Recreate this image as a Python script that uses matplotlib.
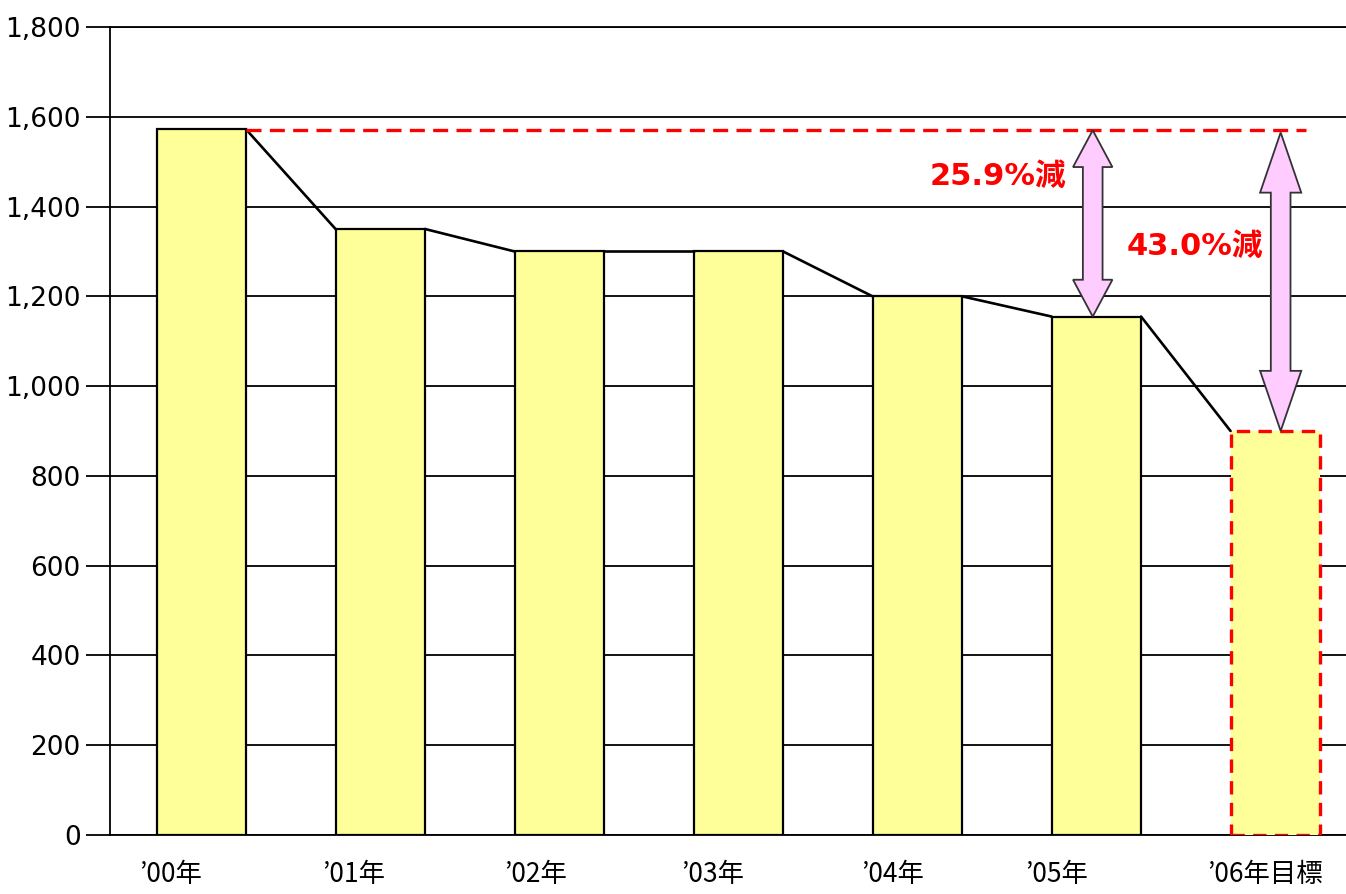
import matplotlib
matplotlib.use("Agg")
import matplotlib.pyplot as plt
from matplotlib.patches import Polygon
from matplotlib.ticker import FuncFormatter, MultipleLocator

plt.rcParams['font.family'] = ['DejaVu Sans', 'Noto Sans CJK JP']

categories = ["’00年", "’01年", "’02年", "’03年", "’04年", "’05年", "’06年目標"]
values = [1572, 1350, 1300, 1300, 1200, 1155, 900]
base_value = 1570
label_a = "25.9%減"
label_b = "43.0%減"
label_a_y = 1466
label_b_y = 1310

W, H = 1346, 894
fig = plt.figure(figsize=(W / 100, H / 100), dpi=100)
ax = fig.add_axes([110 / W, 1 - 835 / H, 1 - 110 / W, (835 - 27) / H])

n = len(values)
xs = list(range(n))
bw = 0.5
yellow = "#FFFF99"

# actual bars
ax.bar(xs[:-1], values[:-1], width=bw, color=yellow, edgecolor="black", linewidth=1.6, zorder=3)
# target bar
ax.bar(xs[-1], values[-1], width=bw, color=yellow, edgecolor="none", zorder=3)
ax.bar(xs[-1], values[-1], width=bw, fill=False, edgecolor="#FF0000", linewidth=2.4,
       linestyle=(0, (4, 2.5)), zorder=4)

# connecting line between bar corners
for i in range(n - 1):
    ax.plot([xs[i] + bw / 2, xs[i + 1] - bw / 2], [values[i], values[i + 1]],
            color="black", linewidth=1.9, zorder=4, solid_capstyle="round")

# red dashed base line
ax.plot([xs[0] + bw / 2, xs[-1] + 0.17], [base_value, base_value], color="#FF0000",
        linewidth=2.4, linestyle=(0, (4.5, 2.5)), zorder=5)


def double_arrow(x, y_bot, y_top, sw, hw, hl):
    pts = [(x, y_top), (x + hw / 2, y_top - hl), (x + sw / 2, y_top - hl),
           (x + sw / 2, y_bot + hl), (x + hw / 2, y_bot + hl), (x, y_bot),
           (x - hw / 2, y_bot + hl), (x - sw / 2, y_bot + hl),
           (x - sw / 2, y_top - hl), (x - hw / 2, y_top - hl)]
    ax.add_patch(Polygon(pts, closed=True, facecolor="#FFCCFF", edgecolor="#333333",
                         linewidth=1.3, zorder=6))


double_arrow(xs[-2] - 0.02, values[-2], base_value, 0.11, 0.22, 82)
double_arrow(xs[-1] + 0.03, values[-1], base_value - 5, 0.11, 0.23, 134)

ax.text(xs[-2] - 0.17, label_a_y, label_a, color="#FF0000", fontsize=22, fontweight="bold",
        ha="right", va="center", family=["DejaVu Sans", "Noto Sans CJK JP"], zorder=7)
ax.text(xs[-1] - 0.07, label_b_y, label_b, color="#FF0000", fontsize=22, fontweight="bold",
        ha="right", va="center", family=["DejaVu Sans", "Noto Sans CJK JP"], zorder=7)

ax.set_ylim(0, 1800)
ax.set_xlim(-0.51, 6.395)
ax.yaxis.set_major_locator(MultipleLocator(200))
ax.yaxis.set_major_formatter(FuncFormatter(lambda v, p: f"{int(v):,}"))
ax.grid(axis="y", color="black", linewidth=1.3, zorder=0)
ax.set_axisbelow(True)

ax.set_xticks(xs)
ax.set_xticklabels([])
ax.tick_params(axis="x", length=0)
label_shift = [-31, -27, -24, -26, -25, -40, -10]
for x, lab, dx in zip(xs, categories, label_shift):
    ax.annotate(lab, xy=(x, 0), xycoords=ax.get_xaxis_transform(),
                xytext=(dx * 0.72, -19), textcoords="offset points",
                ha="center", va="top", fontsize=19,
                family=["Noto Sans CJK JP", "DejaVu Sans"], annotation_clip=False)
ax.tick_params(axis="y", length=17, width=1.3, labelsize=19, pad=4, color="black")

ax.spines["right"].set_visible(False)
for s in ["left", "bottom", "top"]:
    ax.spines[s].set_linewidth(1.3)
    ax.spines[s].set_color("black")

fig.savefig("out.png", dpi=100)
